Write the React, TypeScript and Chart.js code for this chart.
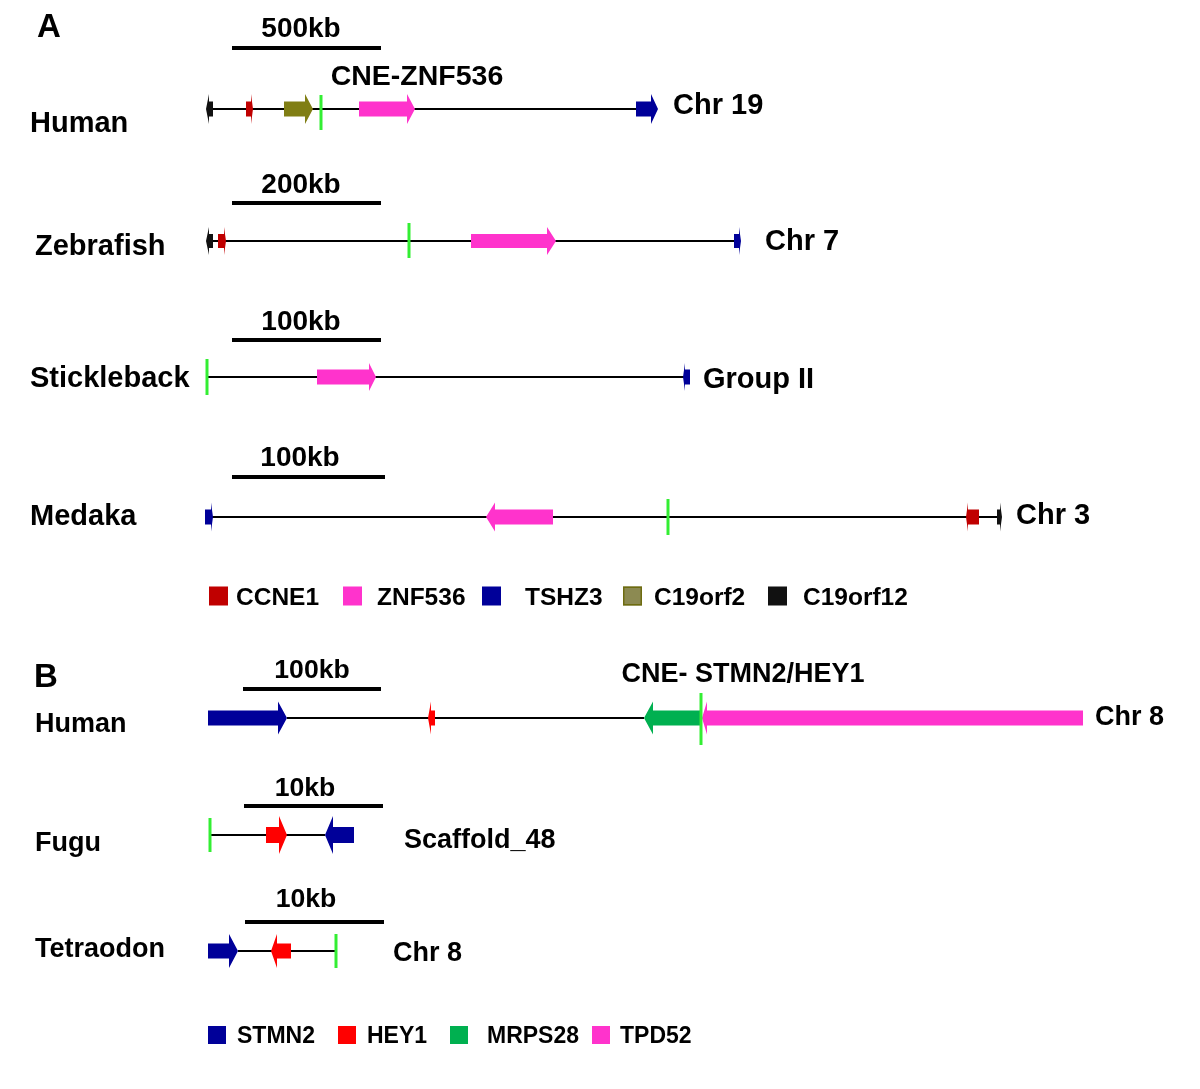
import React, { useEffect, useRef } from 'react';
import { Chart, registerables } from 'chart.js';

Chart.register(...registerables);

const FONT = '"Liberation Sans", Arial, Helvetica, sans-serif';

// ---------- Tracks ----------
const trackNames = ['Human', 'Zebrafish', 'Stickleback', 'Medaka', 'Human', 'Fugu', 'Tetraodon'];
const trackY = [109, 241, 377, 517, 718, 835, 951];
const lineStart = [208, 208, 207, 209, 287, 210, 238];
const lineEnd = [650, 738, 687, 1000, 644, 325, 336];
const chrLabels = ['Chr 19', 'Chr 7', 'Group II', 'Chr 3', 'Chr 8', 'Scaffold_48', 'Chr 8'];

// ---------- Scale bars ----------
const scaleLabels = ['500kb', '200kb', '100kb', '100kb', '100kb', '10kb', '10kb'];
const scaleBarStart = [232, 232, 232, 232, 243, 244, 245];
const scaleBarEnd = [381, 381, 381, 385, 381, 383, 384];
const scaleBarY = [48, 203, 340, 477, 689, 806, 922];

// ---------- Genes ----------
const geneTrack = [0, 0, 0, 0, 0, 1, 1, 1, 1, 2, 2, 3, 3, 3, 3, 4, 4, 4, 4, 5, 5, 6, 6];
const geneNames = [
  'C19orf12', 'CCNE1', 'C19orf2', 'ZNF536', 'TSHZ3',
  'C19orf12', 'CCNE1', 'ZNF536', 'TSHZ3',
  'ZNF536', 'TSHZ3',
  'TSHZ3', 'ZNF536', 'CCNE1', 'C19orf12',
  'STMN2', 'HEY1', 'MRPS28', 'TPD52',
  'HEY1', 'STMN2',
  'STMN2', 'HEY1',
];
const geneStart = [206, 246, 284, 359, 636, 206, 218, 471, 734, 317, 683, 205, 486, 966, 997, 208, 428, 644, 702, 266, 325, 208, 271];
const geneEnd = [213, 253, 313, 415, 658, 213, 226, 556, 741, 376, 690, 213, 553, 979, 1002, 287, 435, 700, 1083, 287, 354, 238, 291];
const geneStrand = ['-', '+', '+', '+', '+', '-', '+', '+', '+', '+', '-', '+', '-', '-', '+', '+', '-', '-', '-', '+', '-', '+', '-'];

// ---------- CNEs ----------
const cneTrack = [0, 1, 2, 3, 4, 5, 6];
const cnePos = [321, 409, 207, 668, 701, 210, 336];
const cneNames = ['CNE-ZNF536', '', '', '', 'CNE- STMN2/HEY1', '', ''];

// ---------- Legends ----------
const legendANames = ['CCNE1', 'ZNF536', 'TSHZ3', 'C19orf2', 'C19orf12'];
const legendBNames = ['STMN2', 'HEY1', 'MRPS28', 'TPD52'];

// ---------- Styles / layout ----------
const geneColors: Record<string, string> = {
  CCNE1: '#C00000',
  ZNF536: '#FF33CC',
  TSHZ3: '#000099',
  C19orf2: '#807E14',
  C19orf12: '#111111',
  STMN2: '#000099',
  HEY1: '#FF0000',
  MRPS28: '#00B050',
  TPD52: '#FF33CC',
};
const legendColors: Record<string, string> = { ...geneColors, C19orf2: '#8C8A52' };
const geneHead = [3, 2, 8, 8, 7, 3, 2, 9, 2, 7, 2, 2, 9, 2, 2, 9, 3, 9, 5, 8, 8, 9, 6];
const bodyHalf = [7.5, 7, 7.5, 7.5, 7.5, 8, 7.5];
const headHalf = [15, 14, 14, 14.5, 16.5, 19, 17];
const cneUp = [14, 18, 18, 18, 25, 17, 17];
const cneDown = [21, 17, 18, 18, 27, 17, 17];
const trackLabelX = [30, 35, 30, 30, 35, 35, 35];
const trackLabelY = [122, 245, 377, 515, 722, 841, 947];
const labelSize = [29, 29, 29, 29, 27, 27, 27];
const chrLabelX = [673, 765, 703, 1016, 1095, 404, 393];
const chrLabelY = [104, 240, 378, 514, 715, 838, 951];
const scaleLabelX = [301, 301, 301, 300, 312, 305, 306];
const scaleLabelY = [27, 183, 320, 456, 668, 786, 897];
const scaleLabelSize = [28, 28, 28, 28, 26.6, 26.6, 26.6];
const cneLabelX = [417, 0, 0, 0, 743, 0, 0];
const cneLabelY = [75, 0, 0, 0, 672, 0, 0];
const cneLabelSize = [28.5, 0, 0, 0, 27, 0, 0];
const legendASquareX = [209, 343, 482, 623, 768];
const legendATextX = [236, 377, 525, 654, 803];
const legendBSquareX = [208, 338, 450, 592];
const legendBTextX = [237, 367, 487, 620];
const legendAY = 596;
const legendBY = 1035;

const diagramPlugin = {
  id: 'geneDiagram',
  afterDraw(chart: any) {
    const ctx: CanvasRenderingContext2D = chart.ctx;
    const xs = chart.scales.x;
    const ys = chart.scales.y;
    const X = (v: number) => xs.getPixelForValue(v);
    const Y = (v: number) => ys.getPixelForValue(v);
    const dy = (v: number) => Math.abs(Y(v) - Y(0));

    ctx.save();
    ctx.fillStyle = '#ffffff';
    ctx.fillRect(0, 0, chart.width, chart.height);

    // y is the vertical centre of the capitals
    const text = (s: string, x: number, y: number, size: number, align: CanvasTextAlign = 'left') => {
      ctx.font = `bold ${size}px ${FONT}`;
      ctx.fillStyle = '#000000';
      ctx.textAlign = align;
      ctx.textBaseline = 'alphabetic';
      ctx.fillText(s, x, y + 0.358 * size);
    };

    // panel letters
    text('A', X(37), Y(25), 33);
    text('B', X(34), Y(675), 33);

    // scale bars
    for (let i = 0; i < scaleLabels.length; i++) {
      ctx.fillStyle = '#000000';
      ctx.fillRect(X(scaleBarStart[i]), Y(scaleBarY[i]) - 2, X(scaleBarEnd[i]) - X(scaleBarStart[i]), 4);
      text(scaleLabels[i], X(scaleLabelX[i]), Y(scaleLabelY[i]), scaleLabelSize[i], 'center');
    }

    // tracks
    for (let t = 0; t < trackNames.length; t++) {
      ctx.strokeStyle = '#000000';
      ctx.lineWidth = 2;
      ctx.beginPath();
      ctx.moveTo(X(lineStart[t]), Y(trackY[t]));
      ctx.lineTo(X(lineEnd[t]), Y(trackY[t]));
      ctx.stroke();
      text(trackNames[t], X(trackLabelX[t]), Y(trackLabelY[t]), labelSize[t]);
      text(chrLabels[t], X(chrLabelX[t]), Y(chrLabelY[t]), labelSize[t]);
    }

    // genes
    for (let g = 0; g < geneNames.length; g++) {
      const t = geneTrack[g];
      const yc = Y(trackY[t]);
      const bh = dy(bodyHalf[t]);
      const hh = dy(headHalf[t]);
      const x1 = X(geneStart[g]);
      const x2 = X(geneEnd[g]);
      const hl = X(geneStart[g] + geneHead[g]) - x1;
      ctx.fillStyle = geneColors[geneNames[g]];
      ctx.beginPath();
      if (geneStrand[g] === '+') {
        ctx.moveTo(x1, yc - bh);
        ctx.lineTo(x2 - hl, yc - bh);
        ctx.lineTo(x2 - hl, yc - hh);
        ctx.lineTo(x2, yc);
        ctx.lineTo(x2 - hl, yc + hh);
        ctx.lineTo(x2 - hl, yc + bh);
        ctx.lineTo(x1, yc + bh);
      } else {
        ctx.moveTo(x2, yc - bh);
        ctx.lineTo(x1 + hl, yc - bh);
        ctx.lineTo(x1 + hl, yc - hh);
        ctx.lineTo(x1, yc);
        ctx.lineTo(x1 + hl, yc + hh);
        ctx.lineTo(x1 + hl, yc + bh);
        ctx.lineTo(x2, yc + bh);
      }
      ctx.closePath();
      ctx.fill();
    }

    // CNEs
    for (let c = 0; c < cnePos.length; c++) {
      const t = cneTrack[c];
      ctx.strokeStyle = '#33EE33';
      ctx.lineWidth = 3;
      ctx.beginPath();
      ctx.moveTo(X(cnePos[c]), Y(trackY[t] - cneUp[t]));
      ctx.lineTo(X(cnePos[c]), Y(trackY[t] + cneDown[t]));
      ctx.stroke();
      if (cneNames[c]) text(cneNames[c], X(cneLabelX[c]), Y(cneLabelY[c]), cneLabelSize[c], 'center');
    }

    // legends
    const drawLegend = (names: string[], sx: number[], tx: number[], yv: number, size: number, fsize: number) => {
      for (let i = 0; i < names.length; i++) {
        const col = legendColors[names[i]];
        const y0 = Y(yv) - size / 2;
        ctx.fillStyle = col;
        ctx.fillRect(X(sx[i]), y0, size, size);
        if (names[i] === 'C19orf2') {
          ctx.strokeStyle = '#6E6C10';
          ctx.lineWidth = 1.5;
          ctx.strokeRect(X(sx[i]) + 0.75, y0 + 0.75, size - 1.5, size - 1.5);
        }
        text(names[i], X(tx[i]), Y(yv), fsize);
      }
    };
    drawLegend(legendANames, legendASquareX, legendATextX, legendAY, 19, 24.5);
    drawLegend(legendBNames, legendBSquareX, legendBTextX, legendBY, 18, 23);

    ctx.restore();
  },
};

export default function App() {
  const canvasRef = useRef<HTMLCanvasElement | null>(null);
  useEffect(() => {
    if (!canvasRef.current) return;
    const chart = new Chart(canvasRef.current, {
      type: 'scatter',
      data: { datasets: [{ data: [], pointRadius: 0 }] },
      options: {
        animation: false,
        responsive: true,
        maintainAspectRatio: false,
        events: [],
        layout: { padding: 0 },
        plugins: { legend: { display: false }, tooltip: { enabled: false } },
        scales: {
          x: { type: 'linear', min: 0, max: 1200, display: false },
          y: { type: 'linear', min: 0, max: 1089, reverse: true, display: false },
        },
      },
      plugins: [diagramPlugin],
    } as any);
    return () => chart.destroy();
  }, []);
  return (
    <div style={{ position: 'absolute', left: 0, top: 0, width: 1200, height: 1089, background: '#fff' }}>
      <canvas ref={canvasRef} />
    </div>
  );
}
